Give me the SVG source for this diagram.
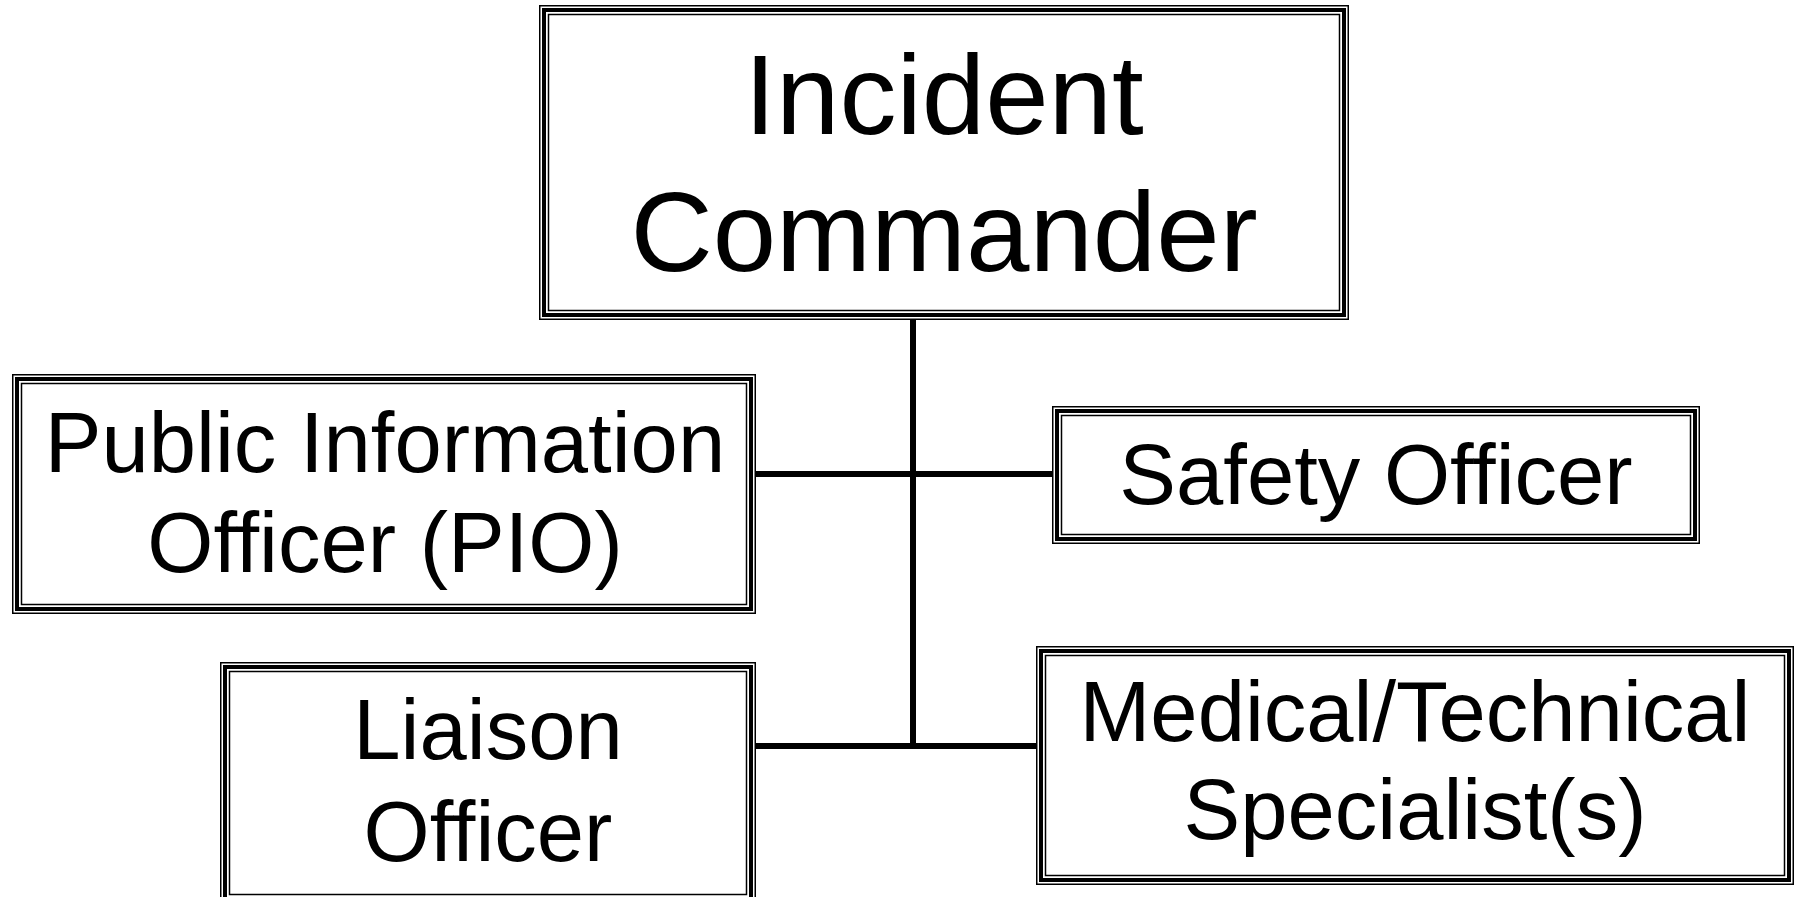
<svg xmlns="http://www.w3.org/2000/svg" width="1795" height="897" viewBox="0 0 1795 897">
  <style>
    .bg { fill: #ffffff; }
    .frame-outer { fill: #ffffff; stroke: #000000; stroke-width: 1.5; }
    .frame-mid { fill: none; stroke: #000000; stroke-width: 4; }
    .frame-inner { fill: none; stroke: #000000; stroke-width: 1.5; }
    .label { font-family: "Liberation Sans", Arial, Helvetica, sans-serif; fill: #000000; text-anchor: middle; }
    .big { font-size: 114px; }
    .mid { font-size: 85px; }
    .conn { stroke: #000000; stroke-width: 6; fill: none; stroke-linecap: butt; }
  </style>
  <rect class="bg" x="0" y="0" width="1795" height="897"/>

  <!-- reporting lines -->
  <g id="connectors">
    <line class="conn" x1="913" y1="320" x2="913" y2="749"/>
    <line class="conn" x1="756" y1="474" x2="1052" y2="474"/>
    <line class="conn" x1="756" y1="746" x2="1036" y2="746"/>
  </g>

  <!-- each box has a triple-line frame: thin outer, thick middle, thin inner -->
  <g id="incident-commander">
    <rect class="frame-outer" x="539.75" y="5.75" width="808.5" height="313.5"/>
    <rect class="frame-mid" x="544" y="10" width="800" height="305"/>
    <rect class="frame-inner" x="548.5" y="14.5" width="791" height="296"/>
    <text class="label big" x="944" y="134">Incident</text>
    <text class="label big" x="944" y="271">Commander</text>
  </g>

  <g id="public-information-officer">
    <rect class="frame-outer" x="12.75" y="374.75" width="742.5" height="238.5"/>
    <rect class="frame-mid" x="17" y="379" width="734" height="230"/>
    <rect class="frame-inner" x="21.5" y="383.5" width="725" height="221"/>
    <text class="label mid" x="385" y="472">Public Information</text>
    <text class="label mid" x="385" y="572">Officer (PIO)</text>
  </g>

  <g id="safety-officer">
    <rect class="frame-outer" x="1052.75" y="406.75" width="646.5" height="136.5"/>
    <rect class="frame-mid" x="1057" y="411" width="638" height="128"/>
    <rect class="frame-inner" x="1061.5" y="415.5" width="629" height="119"/>
    <text class="label mid" x="1376" y="504">Safety Officer</text>
  </g>

  <g id="liaison-officer">
    <rect class="frame-outer" x="220.75" y="662.75" width="534.5" height="240.5"/>
    <rect class="frame-mid" x="225" y="667" width="526" height="232"/>
    <rect class="frame-inner" x="229.5" y="671.5" width="517" height="223"/>
    <text class="label mid" x="488" y="759">Liaison</text>
    <text class="label mid" x="488" y="861">Officer</text>
  </g>

  <g id="medical-technical-specialists">
    <rect class="frame-outer" x="1036.75" y="646.75" width="756.5" height="237.5"/>
    <rect class="frame-mid" x="1041" y="651" width="748" height="229"/>
    <rect class="frame-inner" x="1045.5" y="655.5" width="739" height="220"/>
    <text class="label mid" x="1415" y="741">Medical/Technical</text>
    <text class="label mid" x="1415" y="839">Specialist(s)</text>
  </g>
</svg>
